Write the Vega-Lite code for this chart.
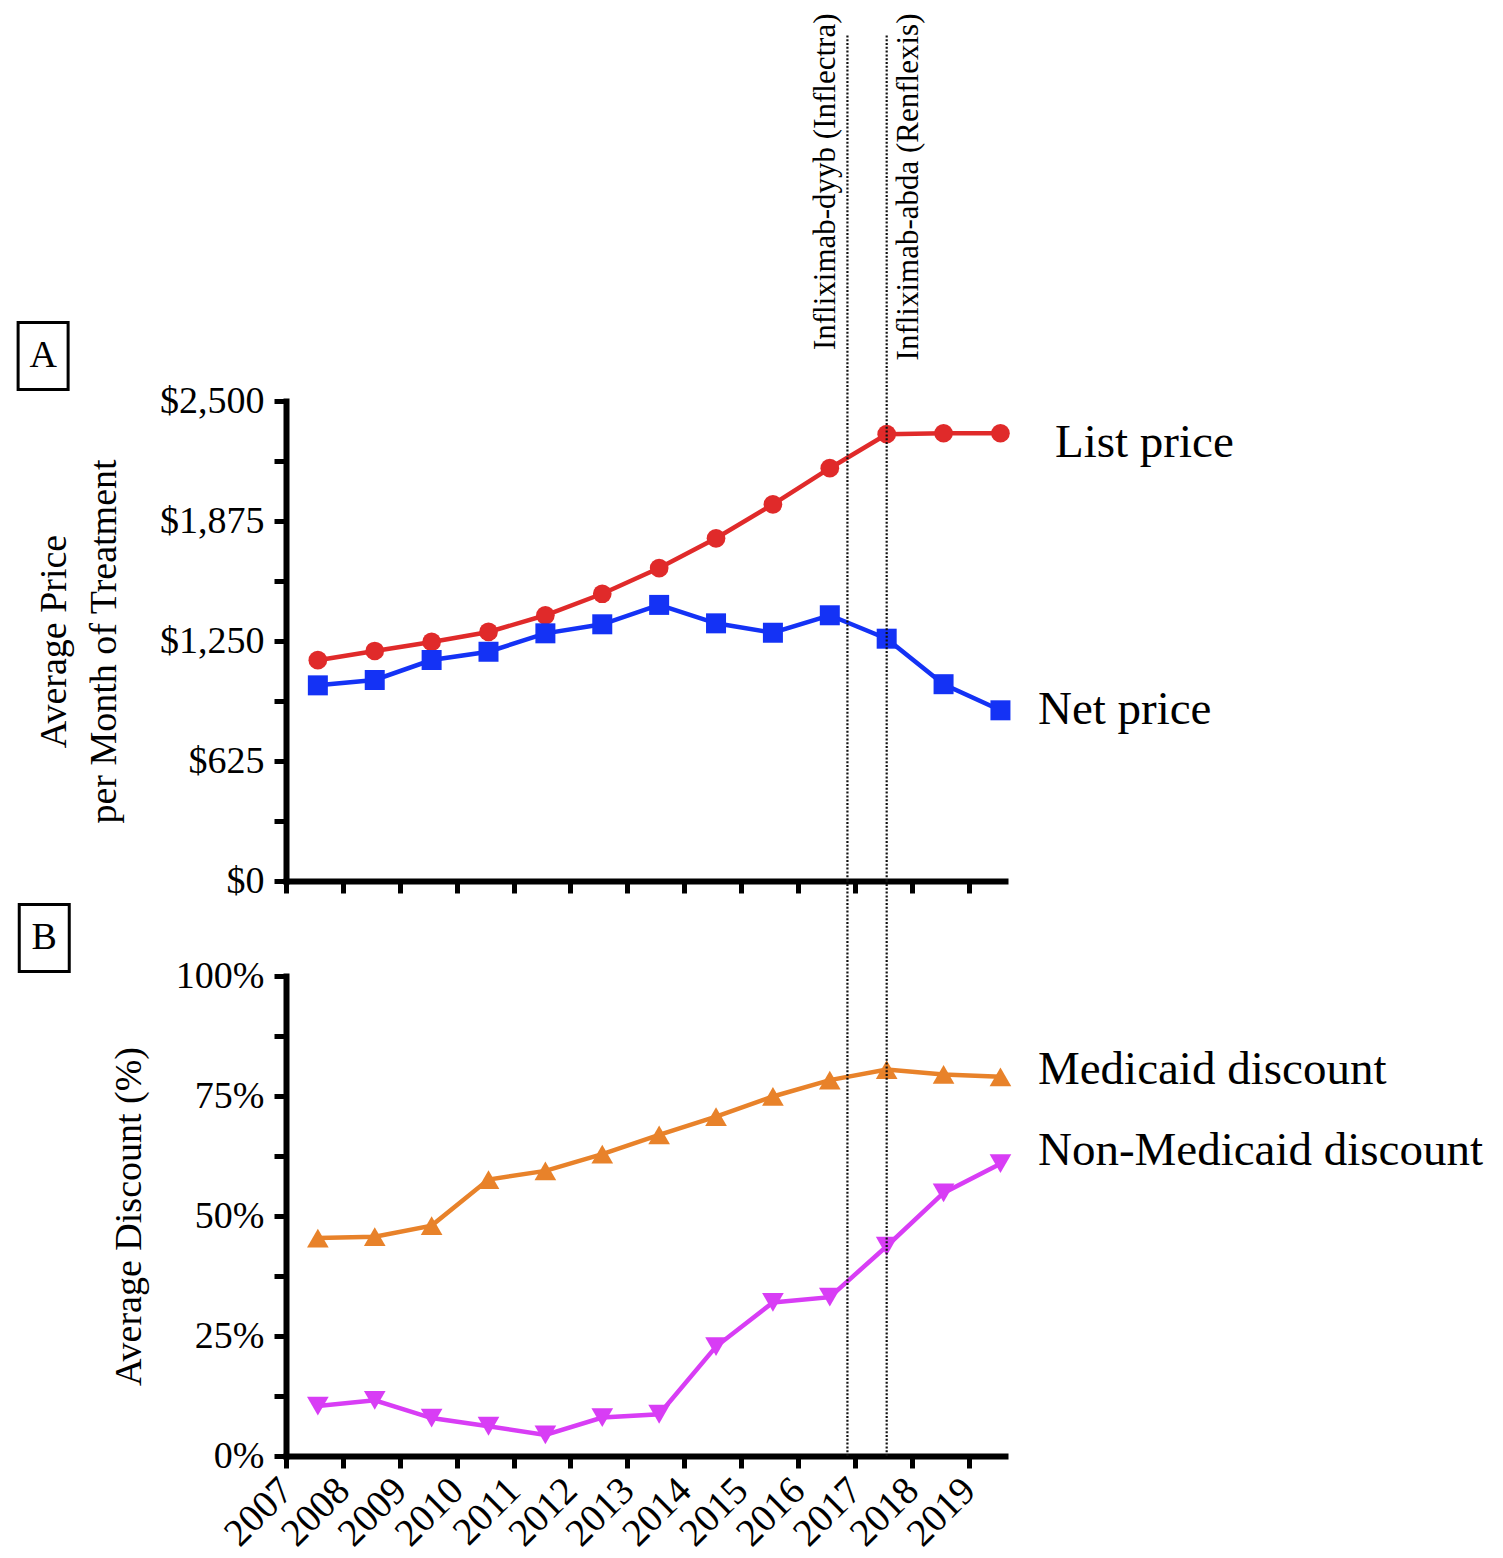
{
  "$schema": "https://vega.github.io/schema/vega-lite/v6.json",
  "background": "white",
  "autosize": {"type": "pad"},
  "padding": {"left": 12, "top": 13, "right": 4, "bottom": 0},
  "bounds": "flush",
  "spacing": 95,
  "resolve": {"scale": {"color": "independent", "shape": "independent", "size": "independent", "y": "independent", "x": "shared"}},
  "config": {
    "font": "Liberation Serif",
    "view": {"stroke": null},
    "axis": {
      "domainColor": "black", "domainWidth": 6, "domainCap": "square",
      "tickColor": "black", "tickWidth": 5, "tickSize": 12,
      "labelFont": "Liberation Serif", "labelFontSize": 38, "labelColor": "black", "labelPadding": 10,
      "labelOverlap": false, "labelFlush": false,
      "titleFont": "Liberation Serif", "titleFontSize": 38, "titleFontWeight": "normal", "titleColor": "black",
      "grid": false
    }
  },
  "datasets": {
    "price": [
      {"series": "List price", "year": 2007.56, "price": 1150},
      {"series": "List price", "year": 2008.56, "price": 1198},
      {"series": "List price", "year": 2009.56, "price": 1245},
      {"series": "List price", "year": 2010.56, "price": 1297},
      {"series": "List price", "year": 2011.56, "price": 1384},
      {"series": "List price", "year": 2012.56, "price": 1496},
      {"series": "List price", "year": 2013.56, "price": 1630},
      {"series": "List price", "year": 2014.56, "price": 1785},
      {"series": "List price", "year": 2015.56, "price": 1962},
      {"series": "List price", "year": 2016.56, "price": 2150},
      {"series": "List price", "year": 2017.56, "price": 2327},
      {"series": "List price", "year": 2018.56, "price": 2332},
      {"series": "List price", "year": 2019.56, "price": 2332},
      {"series": "Net price", "year": 2007.56, "price": 1019},
      {"series": "Net price", "year": 2008.56, "price": 1047},
      {"series": "Net price", "year": 2009.56, "price": 1151},
      {"series": "Net price", "year": 2010.56, "price": 1194},
      {"series": "Net price", "year": 2011.56, "price": 1290},
      {"series": "Net price", "year": 2012.56, "price": 1337},
      {"series": "Net price", "year": 2013.56, "price": 1438},
      {"series": "Net price", "year": 2014.56, "price": 1342},
      {"series": "Net price", "year": 2015.56, "price": 1293},
      {"series": "Net price", "year": 2016.56, "price": 1384},
      {"series": "Net price", "year": 2017.56, "price": 1262},
      {"series": "Net price", "year": 2018.56, "price": 1025},
      {"series": "Net price", "year": 2019.56, "price": 889}
    ],
    "discount": [
      {"series": "Medicaid discount", "year": 2007.56, "discount": 45.4},
      {"series": "Medicaid discount", "year": 2008.56, "discount": 45.7},
      {"series": "Medicaid discount", "year": 2009.56, "discount": 48.0},
      {"series": "Medicaid discount", "year": 2010.56, "discount": 57.6},
      {"series": "Medicaid discount", "year": 2011.56, "discount": 59.4},
      {"series": "Medicaid discount", "year": 2012.56, "discount": 62.9},
      {"series": "Medicaid discount", "year": 2013.56, "discount": 66.9},
      {"series": "Medicaid discount", "year": 2014.56, "discount": 70.7},
      {"series": "Medicaid discount", "year": 2015.56, "discount": 74.9},
      {"series": "Medicaid discount", "year": 2016.56, "discount": 78.3},
      {"series": "Medicaid discount", "year": 2017.56, "discount": 80.5},
      {"series": "Medicaid discount", "year": 2018.56, "discount": 79.5},
      {"series": "Medicaid discount", "year": 2019.56, "discount": 79.0},
      {"series": "Non-Medicaid discount", "year": 2007.56, "discount": 10.4},
      {"series": "Non-Medicaid discount", "year": 2008.56, "discount": 11.6},
      {"series": "Non-Medicaid discount", "year": 2009.56, "discount": 7.9},
      {"series": "Non-Medicaid discount", "year": 2010.56, "discount": 6.2},
      {"series": "Non-Medicaid discount", "year": 2011.56, "discount": 4.4},
      {"series": "Non-Medicaid discount", "year": 2012.56, "discount": 8.0},
      {"series": "Non-Medicaid discount", "year": 2013.56, "discount": 8.7},
      {"series": "Non-Medicaid discount", "year": 2014.56, "discount": 22.8},
      {"series": "Non-Medicaid discount", "year": 2015.56, "discount": 32.0},
      {"series": "Non-Medicaid discount", "year": 2016.56, "discount": 33.1},
      {"series": "Non-Medicaid discount", "year": 2017.56, "discount": 43.7},
      {"series": "Non-Medicaid discount", "year": 2018.56, "discount": 54.8},
      {"series": "Non-Medicaid discount", "year": 2019.56, "discount": 60.9}
    ],
    "events": [
      {"event": "Infliximab-dyyb (Inflectra)", "date": 2016.87},
      {"event": "Infliximab-abda (Renflexis)", "date": 2017.56}
    ]
  },
  "vconcat": [
    {
      "width": 719,
      "height": 480,
      "layer": [
        {
          "data": {"name": "price"},
          "mark": {"type": "line", "strokeWidth": 4.5},
          "encoding": {
            "x": {"field": "year", "type": "quantitative",
                  "scale": {"domain": [2007, 2019.64], "nice": false, "zero": false},
                  "axis": {"values": [2007,2008,2009,2010,2011,2012,2013,2014,2015,2016,2017,2018,2019], "labels": false, "title": null}},
            "y": {"field": "price", "type": "quantitative",
                  "scale": {"domain": [0, 2500], "nice": false},
                  "axis": {"values": [0,312.5,625,937.5,1250,1562.5,1875,2187.5,2500],
                           "labelExpr": "datum.value % 625 === 0 ? format(datum.value, '$,') : ''",
                           "title": ["Average Price", "per Month of Treatment"], "titlePadding": 36, "titleLineHeight": 50}},
            "color": {"field": "series", "type": "nominal",
                      "scale": {"domain": ["List price", "Net price"], "range": ["#E02A2A", "#1432F5"]}, "legend": null}
          }
        },
        {
          "data": {"name": "price"},
          "mark": {"type": "point", "filled": true, "opacity": 1, "strokeWidth": 0},
          "encoding": {
            "x": {"field": "year", "type": "quantitative"},
            "y": {"field": "price", "type": "quantitative"},
            "color": {"field": "series", "type": "nominal", "legend": null},
            "shape": {"field": "series", "type": "nominal",
                      "scale": {"domain": ["List price", "Net price"], "range": ["circle", "square"]}, "legend": null},
            "size": {"field": "series", "type": "nominal",
                     "scale": {"domain": ["List price", "Net price"], "range": [350, 400]}, "legend": null}
          }
        },
        {
          "data": {"name": "events"},
          "mark": {"type": "rule", "color": "#111111", "strokeWidth": 2.2, "strokeDash": [2, 1.8]},
          "encoding": {
            "x": {"field": "date", "type": "quantitative"},
            "y": {"datum": 0, "type": "quantitative"},
            "y2": {"datum": 4414}
          }
        },
        {
          "data": {"name": "events"},
          "transform": [{"filter": "datum.date < 2017"}],
          "mark": {"type": "text", "angle": 270, "align": "right", "baseline": "bottom", "dx": 20, "dy": -5, "fontSize": 31, "font": "Liberation Serif", "color": "black"},
          "encoding": {
            "x": {"field": "date", "type": "quantitative"},
            "y": {"datum": 4414, "type": "quantitative"},
            "text": {"field": "event"}
          }
        },
        {
          "data": {"name": "events"},
          "transform": [{"filter": "datum.date > 2017"}],
          "mark": {"type": "text", "angle": 270, "align": "right", "baseline": "top", "dx": 20, "dy": 7, "fontSize": 31, "font": "Liberation Serif", "color": "black"},
          "encoding": {
            "x": {"field": "date", "type": "quantitative"},
            "y": {"datum": 4414, "type": "quantitative"},
            "text": {"field": "event"}
          }
        },
        {
          "data": {"values": [{}]},
          "mark": {"type": "point", "shape": "M-1,-1.34L1,-1.34L1,1.34L-1,1.34Z", "size": 2500, "filled": false, "color": "black", "opacity": 1, "strokeWidth": 3},
          "encoding": {
            "x": {"datum": 2002.73, "type": "quantitative"},
            "y": {"datum": 2735, "type": "quantitative"}
          }
        },
        {
          "data": {"values": [{}]},
          "mark": {"type": "text", "align": "center", "baseline": "middle", "fontSize": 38, "font": "Liberation Serif", "color": "black"},
          "encoding": {
            "x": {"datum": 2002.73, "type": "quantitative"},
            "y": {"datum": 2735, "type": "quantitative"},
            "text": {"value": "A"}
          }
        },
        {
          "data": {"values": [{}]},
          "mark": {"type": "text", "align": "left", "baseline": "alphabetic", "fontSize": 47, "font": "Liberation Serif", "color": "black"},
          "encoding": {
            "x": {"datum": 2020.518, "type": "quantitative"},
            "y": {"datum": 2208, "type": "quantitative"},
            "text": {"value": "List price"}
          }
        },
        {
          "data": {"values": [{}]},
          "mark": {"type": "text", "align": "left", "baseline": "alphabetic", "fontSize": 47, "font": "Liberation Serif", "color": "black"},
          "encoding": {
            "x": {"datum": 2020.219, "type": "quantitative"},
            "y": {"datum": 819, "type": "quantitative"},
            "text": {"value": "Net price"}
          }
        }
      ]
    },
    {
      "width": 719,
      "height": 480,
      "layer": [
        {
          "data": {"name": "discount"},
          "mark": {"type": "line", "strokeWidth": 4.5},
          "encoding": {
            "x": {"field": "year", "type": "quantitative",
                  "scale": {"domain": [2007, 2019.64], "nice": false, "zero": false},
                  "axis": {"values": [2007,2008,2009,2010,2011,2012,2013,2014,2015,2016,2017,2018,2019], "format": "d",
                           "labelAngle": -45, "labelAlign": "right", "labelBaseline": "middle", "labelPadding": 16, "labelFontSize": 39, "title": null}},
            "y": {"field": "discount", "type": "quantitative",
                  "scale": {"domain": [0, 100], "nice": false},
                  "axis": {"values": [0,12.5,25,37.5,50,62.5,75,87.5,100],
                           "labelExpr": "datum.value % 25 === 0 ? datum.value + '%' : ''",
                           "title": "Average Discount (%)", "titlePadding": 27}},
            "color": {"field": "series", "type": "nominal",
                      "scale": {"domain": ["Medicaid discount", "Non-Medicaid discount"], "range": ["#E8822A", "#D83DF5"]}, "legend": null}
          }
        },
        {
          "data": {"name": "discount"},
          "mark": {"type": "point", "filled": true, "opacity": 1, "strokeWidth": 0, "size": 470},
          "encoding": {
            "x": {"field": "year", "type": "quantitative"},
            "y": {"field": "discount", "type": "quantitative"},
            "color": {"field": "series", "type": "nominal", "legend": null},
            "shape": {"field": "series", "type": "nominal",
                      "scale": {"domain": ["Medicaid discount", "Non-Medicaid discount"], "range": ["triangle-up", "triangle-down"]}, "legend": null}
          }
        },
        {
          "data": {"name": "events"},
          "mark": {"type": "rule", "color": "#111111", "strokeWidth": 2.2, "strokeDash": [2, 1.8]},
          "encoding": {
            "x": {"field": "date", "type": "quantitative"},
            "y": {"datum": 0, "type": "quantitative"},
            "y2": {"datum": 120}
          }
        },
        {
          "data": {"values": [{}]},
          "mark": {"type": "point", "shape": "M-1,-1.34L1,-1.34L1,1.34L-1,1.34Z", "size": 2500, "filled": false, "color": "black", "opacity": 1, "strokeWidth": 3},
          "encoding": {
            "x": {"datum": 2002.75, "type": "quantitative"},
            "y": {"datum": 107.9, "type": "quantitative"}
          }
        },
        {
          "data": {"values": [{}]},
          "mark": {"type": "text", "align": "center", "baseline": "middle", "fontSize": 38, "font": "Liberation Serif", "color": "black"},
          "encoding": {
            "x": {"datum": 2002.75, "type": "quantitative"},
            "y": {"datum": 107.9, "type": "quantitative"},
            "text": {"value": "B"}
          }
        },
        {
          "data": {"values": [{}]},
          "mark": {"type": "text", "align": "left", "baseline": "alphabetic", "fontSize": 47, "font": "Liberation Serif", "color": "black"},
          "encoding": {
            "x": {"datum": 2020.219, "type": "quantitative"},
            "y": {"datum": 77.56, "type": "quantitative"},
            "text": {"value": "Medicaid discount"}
          }
        },
        {
          "data": {"values": [{}]},
          "mark": {"type": "text", "align": "left", "baseline": "alphabetic", "fontSize": 47, "font": "Liberation Serif", "color": "black"},
          "encoding": {
            "x": {"datum": 2020.219, "type": "quantitative"},
            "y": {"datum": 60.56, "type": "quantitative"},
            "text": {"value": "Non-Medicaid discount"}
          }
        }
      ]
    }
  ]
}
